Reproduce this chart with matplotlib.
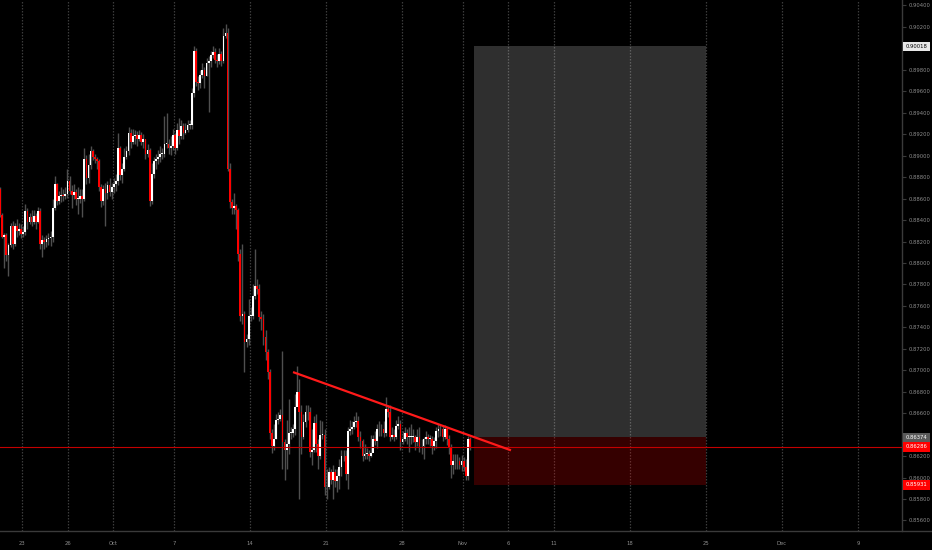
import matplotlib
matplotlib.use("Agg")
import matplotlib.pyplot as plt
import matplotlib.transforms as mtransforms
from matplotlib.lines import Line2D
import numpy as np

# ---------------- data (EUR/GBP-like, 3h candles) ----------------
first_open = 0.8869
closes = [
 0.8845,0.8824,0.8826,0.8807,0.8817,0.8834,0.8818,0.8834,0.8830,0.8832,
 0.8827,0.8829,0.8848,0.8838,0.8843,0.8838,0.8844,0.8838,0.8848,0.8818,
 0.8821,0.8820,0.8822,0.8823,0.8824,0.8851,0.8874,0.8858,0.8862,0.8863,
 0.8862,0.8864,0.8876,0.8867,0.8863,0.8866,0.8860,0.8860,0.8862,0.8860,
 0.8897,0.8879,0.8891,0.8904,0.8899,0.8897,0.8895,0.8871,0.8858,0.8869,
 0.8865,0.8873,0.8866,0.8871,0.8874,0.8876,0.8907,0.8882,0.8888,0.8899,
 0.8904,0.8921,0.8913,0.8918,0.8919,0.8916,0.8919,0.8913,0.8916,0.8902,
 0.8905,0.8858,0.8883,0.8895,0.8897,0.8899,0.8902,0.8902,0.8911,0.8911,
 0.8907,0.8909,0.8919,0.8907,0.8924,0.8918,0.8928,0.8921,0.8924,0.8929,
 0.8929,0.8958,0.8998,0.8969,0.8968,0.8975,0.8980,0.8974,0.8986,0.8988,
 0.8994,0.8997,0.8989,0.8988,0.8995,0.8988,0.9012,0.9014,0.8888,0.8857,
 0.8851,0.8853,0.8849,0.8808,0.8751,0.8752,0.8726,0.8729,0.8751,0.8751,
 0.8769,0.8779,0.8776,0.8750,0.8748,0.8731,0.8717,0.8698,0.8642,0.8629,
 0.8636,0.8654,0.8655,0.8658,0.8633,0.8626,0.8631,0.8642,0.8642,0.8645,
 0.8666,0.8680,0.8661,0.8638,0.8652,0.8661,0.8661,0.8624,0.8626,0.8651,
 0.8631,0.8620,0.8640,0.8640,0.8591,0.8591,0.8605,0.8598,0.8605,0.8597,
 0.8601,0.8610,0.8620,0.8620,0.8603,0.8643,0.8645,0.8647,0.8652,0.8653,
 0.8638,0.8634,0.8620,0.8622,0.8622,0.8620,0.8623,0.8636,0.8634,0.8645,
 0.8645,0.8645,0.8642,0.8664,0.8661,0.8638,0.8640,0.8638,0.8648,0.8650,
 0.8633,0.8636,0.8642,0.8638,0.8638,0.8638,0.8638,0.8633,0.8638,0.8629,
 0.8629,0.8636,0.8638,0.8636,0.8636,0.8629,0.8634,0.8643,0.8645,0.8645,
 0.8638,0.8645,0.8636,0.8628,0.8612,0.8615,0.8615,0.8615,0.8612,0.8615,
 0.8610,0.8601,0.8636,0.86286,
]
highs = [
 0.8871,0.8847,0.8828,0.8828,0.8819,0.8837,0.8839,0.8837,0.8841,0.8837,
 0.8836,0.8834,0.8855,0.8851,0.8847,0.8849,0.8849,0.8847,0.8852,0.8851,
 0.8826,0.8824,0.8826,0.8828,0.8830,0.8860,0.8881,0.8875,0.8867,0.8871,
 0.8869,0.8871,0.8888,0.8881,0.8873,0.8874,0.8869,0.8871,0.8869,0.8869,
 0.8907,0.8901,0.8902,0.8909,0.8906,0.8902,0.8899,0.8897,0.8874,0.8873,
 0.8875,0.8876,0.8879,0.8875,0.8879,0.8883,0.8921,0.8909,0.8893,0.8907,
 0.8909,0.8927,0.8925,0.8925,0.8924,0.8923,0.8924,0.8922,0.8920,0.8916,
 0.8911,0.8907,0.8893,0.8899,0.8902,0.8905,0.8909,0.8907,0.8937,0.8940,
 0.8916,0.8918,0.8925,0.8921,0.8930,0.8935,0.8933,0.8930,0.8930,0.8933,
 0.8933,0.8963,0.9002,0.9000,0.8974,0.8980,0.8986,0.8983,0.8991,0.8993,
 0.8998,0.9002,0.9000,0.8995,0.9000,0.8998,0.9019,0.9023,0.9019,0.8893,
 0.8860,0.8865,0.8855,0.8851,0.8813,0.8818,0.8755,0.8734,0.8766,0.8759,
 0.8780,0.8813,0.8785,0.8780,0.8755,0.8752,0.8738,0.8720,0.8701,0.8645,
 0.8650,0.8659,0.8661,0.8664,0.8718,0.8636,0.8654,0.8673,0.8647,0.8650,
 0.8678,0.8704,0.8692,0.8668,0.8659,0.8668,0.8668,0.8666,0.8645,0.8657,
 0.8659,0.8636,0.8654,0.8653,0.8645,0.8608,0.8610,0.8608,0.8612,0.8608,
 0.8608,0.8617,0.8626,0.8626,0.8626,0.8647,0.8654,0.8653,0.8657,0.8661,
 0.8657,0.8643,0.8636,0.8631,0.8628,0.8626,0.8640,0.8640,0.8643,0.8650,
 0.8653,0.8650,0.8653,0.8675,0.8668,0.8668,0.8647,0.8645,0.8654,0.8657,
 0.8654,0.8643,0.8647,0.8645,0.8647,0.8650,0.8645,0.8640,0.8645,0.8647,
 0.8636,0.8638,0.8643,0.8641,0.8640,0.8639,0.8638,0.8647,0.8650,0.8649,
 0.8649,0.8649,0.8647,0.8640,0.8631,0.8622,0.8622,0.8622,0.8619,0.8621,
 0.8619,0.8617,0.8639,0.8638,
]
lows = [
 0.8843,0.8823,0.8795,0.8802,0.8788,0.8815,0.8813,0.8816,0.8824,0.8826,
 0.8823,0.8824,0.8826,0.8832,0.8836,0.8834,0.8836,0.8832,0.8837,0.8813,
 0.8806,0.8813,0.8815,0.8817,0.8816,0.8820,0.8849,0.8854,0.8855,0.8857,
 0.8858,0.8860,0.8861,0.8864,0.8851,0.8860,0.8854,0.8846,0.8856,0.8843,
 0.8858,0.8874,0.8875,0.8888,0.8896,0.8893,0.8888,0.8867,0.8852,0.8854,
 0.8834,0.8860,0.8862,0.8860,0.8865,0.8867,0.8873,0.8877,0.8875,0.8886,
 0.8897,0.8901,0.8907,0.8911,0.8911,0.8909,0.8914,0.8910,0.8907,0.8897,
 0.8899,0.8853,0.8855,0.8879,0.8888,0.8892,0.8894,0.8897,0.8899,0.8907,
 0.8902,0.8901,0.8905,0.8902,0.8905,0.8911,0.8916,0.8916,0.8920,0.8922,
 0.8925,0.8925,0.8955,0.8965,0.8961,0.8963,0.8972,0.8963,0.8974,0.8941,
 0.8983,0.8991,0.8986,0.8983,0.8985,0.8984,0.8986,0.9010,0.8886,0.8851,
 0.8846,0.8846,0.8832,0.8802,0.8746,0.8743,0.8698,0.8722,0.8724,0.8746,
 0.8748,0.8766,0.8771,0.8746,0.8738,0.8724,0.8710,0.8692,0.8636,0.8623,
 0.8626,0.8636,0.8650,0.8653,0.8608,0.8598,0.8608,0.8622,0.8636,0.8638,
 0.8640,0.8673,0.8580,0.8622,0.8636,0.8647,0.8654,0.8619,0.8612,0.8624,
 0.8624,0.8608,0.8617,0.8636,0.8584,0.8580,0.8589,0.8594,0.8580,0.8591,
 0.8587,0.8589,0.8601,0.8615,0.8598,0.8589,0.8640,0.8641,0.8645,0.8647,
 0.8634,0.8628,0.8615,0.8617,0.8617,0.8615,0.8619,0.8628,0.8630,0.8628,
 0.8639,0.8639,0.8638,0.8639,0.8656,0.8634,0.8636,0.8634,0.8636,0.8645,
 0.8626,0.8631,0.8634,0.8631,0.8624,0.8631,0.8633,0.8626,0.8629,0.8624,
 0.8622,0.8617,0.8631,0.8631,0.8629,0.8622,0.8626,0.8628,0.8638,0.8639,
 0.8634,0.8636,0.8630,0.8622,0.8600,0.8603,0.8608,0.8608,0.8608,0.8606,
 0.8606,0.8598,0.8598,0.8626,
]

date_ticks = [0, 3, 6, 10, 15, 20, 25, 29, 32, 35, 40, 45, 50, 55]   # trading-day index from 23 Sep
date_labels = ['23', '26', 'Oct', '7', '14', '21', '28', 'Nov', '6', '11', '18', '25', 'Dec', '9']
price_ticks = [0.856 + 0.002 * k for k in range(25)]

last_price = 0.86286
target_price = 0.90018
entry_price = 0.86374
stop_price = 0.85931
zone_start, zone_end = 29.74, 45.0            # trading days
trend_x = [17.83, 32.17]
trend_y = [0.86983, 0.86254]

# ---------------- figure ----------------
W, H = 932, 550
fig = plt.figure(figsize=(W / 100, H / 100), dpi=100, facecolor='#000000')
ax = fig.add_axes([0, 19 / H, 902 / W, 1 - 19 / H])
ax.set_facecolor('#000000')

x_start = -1.447
step = (470 / (len(closes) - 1)) / 15.2
xs = x_start + step * np.arange(len(closes))
ax.set_xlim(-1.447, (902 - 22) / 15.2)
ax.set_ylim(0.85502, 0.90451)

# vertical dotted grid
for t in date_ticks:
    ax.axvline(t, color='#3c3c3c', lw=0.9, ls=(0, (1.2, 1.2)), zorder=0)

# candles
opens = [first_open] + closes[:-1]
up_col, dn_col, wick_col = '#ffffff', '#ff0000', '#4f4f4f'
ax.vlines(xs, lows, highs, color=wick_col, lw=1.0, zorder=2)
bw = step * 0.82
for x, o, c in zip(xs, opens, closes):
    col = up_col if c >= o else dn_col
    lo, hi = min(o, c), max(o, c)
    h = max(hi - lo, 0.00005)
    ax.bar(x, h, bottom=lo, width=bw, color=col, lw=0, zorder=3)

# risk/reward zones
ax.fill_between([zone_start, zone_end], entry_price, target_price,
                color='#ffffff', alpha=0.19, lw=0, zorder=1)
ax.fill_between([zone_start, zone_end], stop_price, entry_price,
                color='#ff0000', alpha=0.21, lw=0, zorder=1)

# trend line
ax.plot(trend_x, trend_y, color='#ff1a1a', lw=1.6, zorder=5, solid_capstyle='butt')

# last price line
ax.axhline(last_price, color='#c40000', lw=0.8, zorder=4)

# axes styling
for s in ['top', 'left', 'bottom']:
    ax.spines[s].set_visible(False)
ax.spines['right'].set_color('#3a3a3a')
ax.spines['right'].set_linewidth(1.0)
ax.yaxis.tick_right()
ax.set_yticks(price_ticks)
hidden = {f'{target_price:.3f}', f'{entry_price:.3f}'}
ax.set_yticklabels(['' if f'{p:.3f}' in hidden else f'{p:.5f}' for p in price_ticks])
ax.tick_params(axis='y', colors='#3a3a3a', labelcolor='#8c8c8c', labelsize=3.8,
               length=3, width=0.8, pad=1.5)
ax.set_xticks(date_ticks)
ax.set_xticklabels(date_labels)
ax.tick_params(axis='x', colors='#000000', labelcolor='#8c8c8c', labelsize=3.8,
               length=0, pad=7)

# bottom separator line across whole figure
fig.add_artist(Line2D([0, 1], [19 / H, 19 / H], color='#3a3a3a', lw=1.0,
                      transform=fig.transFigure))

# price labels on the right axis
trans = mtransforms.blended_transform_factory(ax.transAxes, ax.transData)
def price_box(p, fc, tc):
    ax.text(1.004, p, f'{p:.5f}', transform=trans, fontsize=3.8, color=tc,
            va='center', ha='left', clip_on=False, zorder=10,
            bbox=dict(boxstyle='square,pad=0.45', fc=fc, ec='none'))

price_box(target_price, '#e8e8e8', '#000000')
price_box(entry_price, '#5a5a5a', '#ffffff')
price_box(last_price, '#ff0000', '#ffffff')
price_box(stop_price, '#ff0000', '#ffffff')

fig.savefig('out.png', dpi=100, facecolor='#000000')
